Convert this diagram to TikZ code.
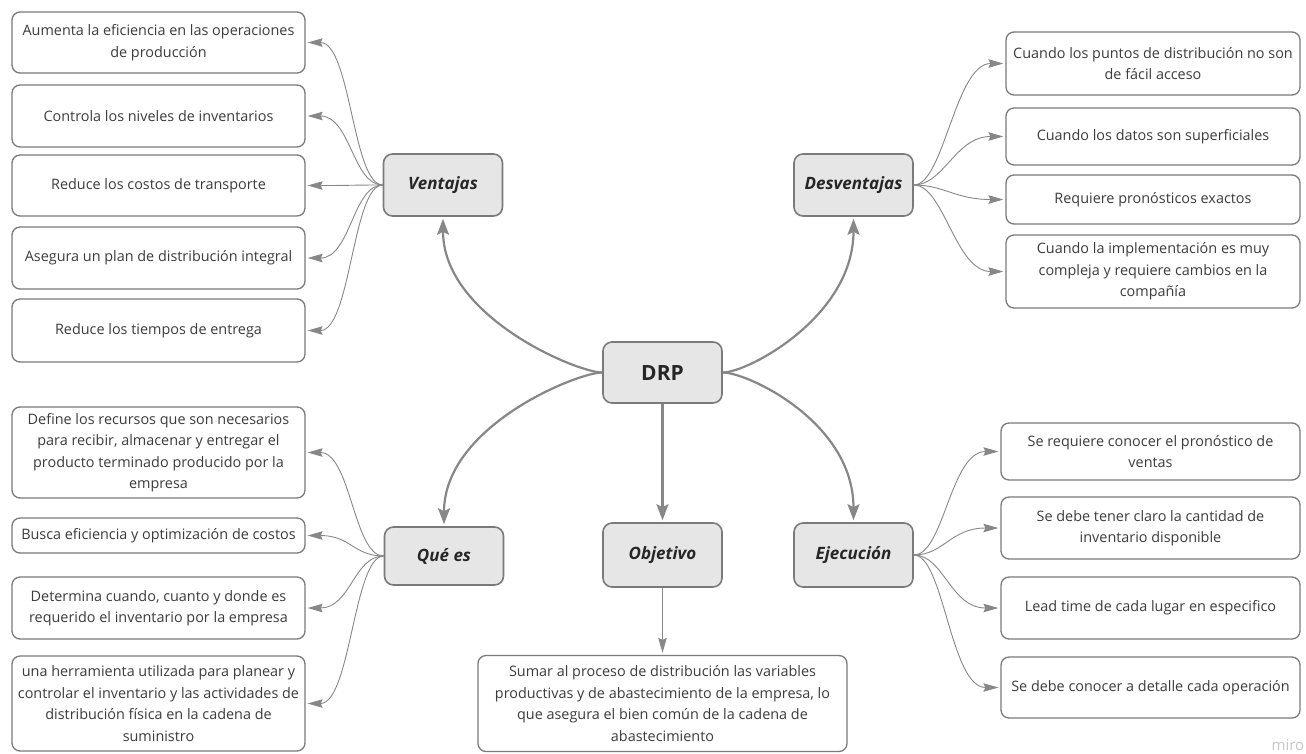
\documentclass[tikz,border=0pt]{standalone}
\usepackage{fontspec}
\setmainfont{Open Sans}
\usetikzlibrary{arrows.meta}
\definecolor{boxline}{HTML}{7A7A7A}
\definecolor{topicfill}{HTML}{E6E6E6}
\definecolor{textdark}{HTML}{3C3C3C}
\definecolor{linkgray}{HTML}{878787}
\tikzset{
  leaf/.style={draw=boxline,line width=1.3pt,rounded corners=8pt,fill=white,text=textdark,
    font=\fontsize{14.4}{21.5}\selectfont,align=center,inner sep=0pt},
  topic/.style={draw=boxline,line width=1.6pt,rounded corners=9pt,fill=topicfill,text=black!85,
    font=\fontsize{17}{20}\selectfont\bfseries\itshape,minimum width=119pt,minimum height=62pt},
  thinlink/.style={linkgray,line width=0.9pt,-{Stealth[length=15pt,width=8.5pt,inset=2pt]},shorten >=2pt},
  biglink/.style={linkgray,line width=2.2pt,-{Stealth[length=16pt,width=12pt,inset=3pt]},shorten >=2pt},
}
\begin{document}
\begin{tikzpicture}[x=1pt,y=-1pt]
  \useasboundingbox (0,0) rectangle (1306,753);
  % centro
  \node[topic,font=\fontsize{21}{24}\selectfont\bfseries,minimum height=61pt] (drp) at (662.5,372.5) {DRP};
  \node[topic] (ven) at (443,185) {Ventajas};
  \node[topic] (des) at (853.5,185) {Desventajas};
  \node[topic,minimum height=58pt] (que) at (444,556) {Qué es};
  \node[topic,minimum height=64pt] (obj) at (662.5,555) {Objetivo};
  \node[topic,minimum height=64pt] (eje) at (853.5,555) {Ejecución};
  % ventajas
  \node[leaf,minimum width=293pt,minimum height=61pt] (v1) at (158.5,42.5) {Aumenta la eficiencia en las operaciones\\de producción};
  \node[leaf,minimum width=293pt,minimum height=62pt] (v2) at (158.5,116) {Controla los niveles de inventarios};
  \node[leaf,minimum width=293pt,minimum height=61pt] (v3) at (158.5,185.5) {Reduce los costos de transporte};
  \node[leaf,minimum width=293pt,minimum height=62pt] (v4) at (158.5,258) {Asegura un plan de distribución integral};
  \node[leaf,minimum width=293pt,minimum height=63pt] (v5) at (158.5,330.5) {Reduce los tiempos de entrega};
  % desventajas
  \node[leaf,minimum width=294pt,minimum height=63pt] (d1) at (1153,63.5) {Cuando los puntos de distribución no son\\de fácil acceso};
  \node[leaf,minimum width=294pt,minimum height=57pt] (d2) at (1153,136.5) {Cuando los datos son superficiales};
  \node[leaf,minimum width=294pt,minimum height=49pt] (d3) at (1153,199.5) {Requiere pronósticos exactos};
  \node[leaf,minimum width=294pt,minimum height=73pt] (d4) at (1153,271.5) {Cuando la implementación es muy\\compleja y requiere cambios en la\\compañía};
  % que es
  \node[leaf,minimum width=293pt,minimum height=91pt] (q1) at (158.5,452.5) {Define los recursos que son necesarios\\para recibir, almacenar y entregar el\\producto terminado producido por la\\empresa};
  \node[leaf,minimum width=293pt,minimum height=35pt] (q2) at (158.5,535.5) {Busca eficiencia y optimización de costos};
  \node[leaf,minimum width=293pt,minimum height=62pt] (q3) at (158.5,608) {Determina cuando, cuanto y donde es\\requerido el inventario por la empresa};
  \node[leaf,minimum width=293pt,minimum height=95pt] (q4) at (158.5,703.5) {una herramienta utilizada para planear y\\controlar el inventario y las actividades de\\distribución física en la cadena de\\suministro};
  % objetivo
  \node[leaf,minimum width=369pt,minimum height=96pt] (o1) at (662.5,703.5) {Sumar al proceso de distribución las variables\\productivas y de abastecimiento de la empresa, lo\\que asegura el bien común de la cadena de\\abastecimiento};
  % ejecucion
  \node[leaf,minimum width=299pt,minimum height=57pt] (e1) at (1150.5,451.5) {Se requiere conocer el pronóstico de\\ventas};
  \node[leaf,minimum width=299pt,minimum height=62pt] (e2) at (1150.5,528) {Se debe tener claro la cantidad de\\inventario disponible};
  \node[leaf,minimum width=299pt,minimum height=62pt] (e3) at (1150.5,608) {Lead time de cada lugar en especifico};
  \node[leaf,minimum width=299pt,minimum height=61pt] (e4) at (1150.5,687.5) {Se debe conocer a detalle cada operación};
  \node[anchor=base west,text=black!22,font=\fontsize{15}{15}\selectfont] (wm) at (1268,750) {miro};
  % flechas principales
  \draw[biglink] (drp.west) .. controls +(-25,0) and +(0,100) .. (ven.south);
  \draw[biglink] (drp.west) .. controls +(-25,0) and +(0,-100) .. (que.north);
  \draw[biglink] (drp.east) .. controls +(25,0) and +(0,100) .. (des.south);
  \draw[biglink] (drp.east) .. controls +(25,0) and +(0,-100) .. (eje.north);
  \draw[biglink] (drp.south) -- (obj.north);
  % ramas
  \foreach \n in {v1,v2,v3,v4,v5}
    \draw[thinlink] (ven.west) .. controls +(-30,0) and +(45,0) .. (\n.east);
  \foreach \n in {q1,q2,q3,q4}
    \draw[thinlink] (que.west) .. controls +(-30,0) and +(45,0) .. (\n.east);
  \foreach \n in {d1,d2,d3,d4}
    \draw[thinlink] (des.east) .. controls +(30,0) and +(-50,0) .. (\n.west);
  \foreach \n in {e1,e2,e3,e4}
    \draw[thinlink] (eje.east) .. controls +(30,0) and +(-50,0) .. (\n.west);
  \draw[thinlink] (obj.south) -- (o1.north);
\end{tikzpicture}
\end{document}
